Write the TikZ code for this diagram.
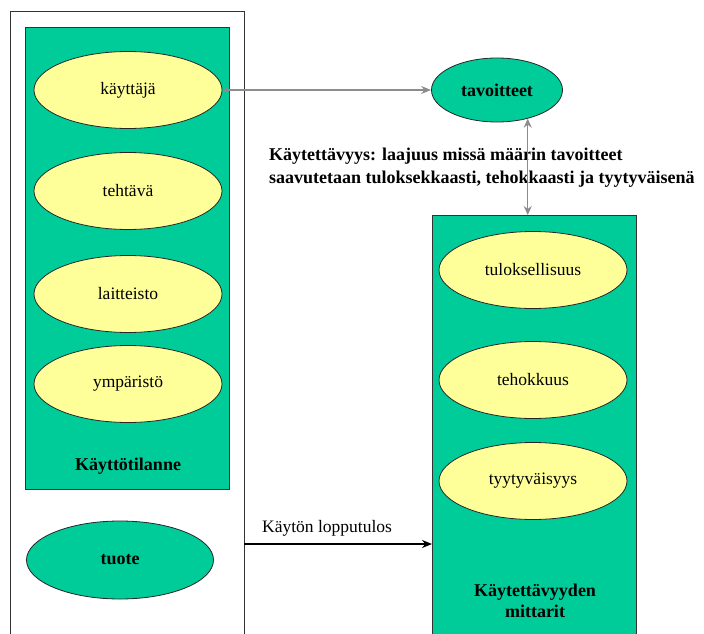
\documentclass[tikz,border=0pt]{standalone}
\usepackage{fontspec}
\setmainfont{Liberation Serif}
\usetikzlibrary{shapes.geometric,arrows.meta}
\definecolor{boxgreen}{RGB}{0,204,153}
\definecolor{ellyellow}{RGB}{255,255,153}
\definecolor{arrgray}{RGB}{140,140,140}
\tikzset{
  greenbox/.style={draw=black!80, line width=0.8pt, fill=boxgreen, inner sep=0pt, anchor=north west},
  yell/.style={ellipse, draw=black!85, line width=0.8pt, fill=ellyellow, minimum width=188pt, minimum height=77pt, inner sep=0pt, font=\fontsize{17.5}{20}\selectfont},
  gell/.style={ellipse, draw=black!85, line width=0.8pt, fill=boxgreen, inner sep=0pt, font=\bfseries\fontsize{18}{20}\selectfont},
  boldlbl/.style={font=\bfseries\fontsize{18}{21}\selectfont, align=center},
  grayarrow/.style={draw=arrgray, line width=1.2pt},
}
\begin{document}
\begin{tikzpicture}[x=1pt,y=-1pt]
\useasboundingbox (0,0) rectangle (704,634);
\clip (0,0) rectangle (704,634);
% outer white frame (open at bottom)
\draw[black!80, line width=1pt] (10,650) -- (10,12) -- (244,12) -- (244,650);
% left green box
\node[greenbox, minimum width=204pt, minimum height=462pt] (tilanne) at (25,27) {};
\node[yell] (kayttaja) at (128,90) {käyttäjä};
\node[yell] (tehtava) at (128,191) {tehtävä};
\node[yell] (laitteisto) at (128,294) {laitteisto};
\node[yell] (ymparisto) at (128,384) {ympäristö};
\node[boldlbl] (tilannelbl) at (128,466) {Käyttötilanne};
% product
\node[gell, minimum width=187pt, minimum height=78pt] (tuote) at (120,560) {tuote};
% goals
\node[gell, minimum width=131pt, minimum height=64pt] (tavoitteet) at (497,90) {tavoitteet};
% right green box
\node[greenbox, minimum width=204pt, minimum height=440pt] (mittarit) at (432,215) {};
\node[yell] (tulos) at (533,270) {tuloksellisuus};
\node[yell] (teho) at (533,380) {tehokkuus};
\node[yell] (tyyty) at (533,481) {tyytyväisyys};
\node[boldlbl, font=\bfseries\fontsize{18}{21}\selectfont] (mittaritlbl) at (535,601) {Käytettävyyden\\mittarit};
% definition text
\node[font=\bfseries\fontsize{18}{23}\selectfont, align=left, anchor=west, inner sep=0pt] (maar) at (269,168)
  {Käytettävyys: laajuus missä määrin tavoitteet\\saavutetaan tuloksekkaasti, tehokkaasti ja tyytyväisenä};
% connectors
\draw[grayarrow, {Stealth[length=6pt,width=6pt]}-{Stealth[length=10pt,width=8pt]}] (kayttaja.east) -- (tavoitteet.west);
\draw[grayarrow, {Stealth[length=9pt,width=8pt]}-{Stealth[length=9pt,width=8pt]}] (tavoitteet.-43) -- (tavoitteet.-43 |- mittarit.north);
\coordinate (lo) at (244,544);
\draw[black, line width=1.2pt, -{Stealth[length=10pt,width=8pt]}] (lo) -- (lo -| mittarit.west);
\node[font=\fontsize{17.5}{20}\selectfont, anchor=south west, inner sep=0pt] (lopputulos) at (262,536) {Käytön lopputulos};
\end{tikzpicture}
\end{document}
